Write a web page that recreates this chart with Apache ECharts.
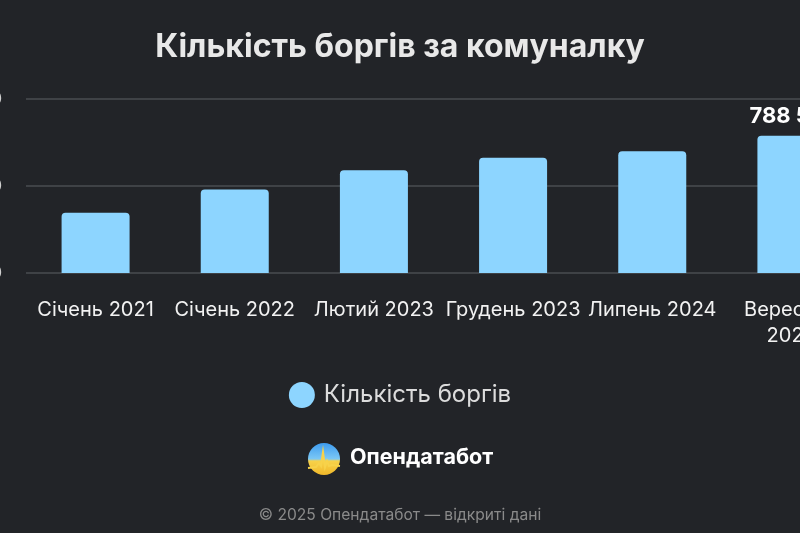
<!DOCTYPE html>
<html>
<head>
<meta charset="utf-8">
<script src="https://cdn.jsdelivr.net/npm/echarts@6/dist/echarts.min.js"></script>
<style>
html,body{margin:0;padding:0;background:#222428;overflow:hidden;}
#chart{width:800px;height:533px;}
</style>
</head>
<body>
<div id="chart"></div>
<script>
const categories = ['Січень 2021', 'Січень 2022', 'Лютий 2023', 'Грудень 2023', 'Липень 2024', 'Вересень 2024'];
const debtCounts = [346000, 480000, 590000, 663000, 699000, 788541];
const seriesName = 'Кількість боргів';
const titleText = 'Кількість боргів за комуналку';
const brandText = 'Опендатабот';
const footerText = '© 2025 Опендатабот — відкриті дані';
const yMin = 0, yMax = 1000000, yInterval = 500000;

function fmt(v){ return String(v).replace(/\B(?=(\d{3})+(?!\d))/g, ' '); }

const chart = echarts.init(document.getElementById('chart'));
chart.setOption({
  backgroundColor: '#222428',
  animation: false,
  textStyle: { fontFamily: 'Inter' },
  title: {
    text: titleText,
    left: 'center',
    top: 26,
    textStyle: { color: '#e8e8e8', fontSize: 32, fontWeight: 'bold', fontFamily: 'Inter' }
  },
  legend: {
    data: [seriesName],
    left: 'center',
    top: 377,
    icon: 'circle',
    itemWidth: 26,
    itemHeight: 26,
    itemGap: 9,
    textStyle: { color: '#dcdcdc', fontSize: 24, fontFamily: 'Inter', padding: [0, 0, 0, 4] }
  },
  grid: { left: 26, top: 99, width: 835, height: 174, containLabel: false, outerBoundsMode: 'none' },
  xAxis: {
    type: 'category',
    data: categories,
    axisLine: { show: false },
    axisTick: { show: false },
    axisLabel: {
      color: '#f2f2f2', fontSize: 20, fontFamily: 'Inter', margin: 24,
      lineHeight: 26, interval: 0,
      formatter: v => v.length > 12 ? v.replace(' ', '\n') : v
    }
  },
  yAxis: {
    type: 'value',
    min: yMin, max: yMax, interval: yInterval,
    axisLine: { show: false },
    axisTick: { show: false },
    axisLabel: { color: '#cfcfcf', fontSize: 16, margin: 24, formatter: v => fmt(v) },
    splitLine: { lineStyle: { color: '#4a4c50', width: 1.5 } }
  },
  series: [{
    name: seriesName,
    type: 'bar',
    data: debtCounts.map((v, i) => ({
      value: v,
      label: {
        show: i === debtCounts.length - 1,
        position: 'top',
        distance: 8,
        color: '#ffffff',
        fontSize: 22,
        fontWeight: 'bold',
        fontFamily: 'Inter',
        formatter: p => fmt(p.value)
      }
    })),
    barWidth: 68,
    itemStyle: { color: '#8dd5ff', borderRadius: [4, 4, 0, 0] }
  }],
  graphic: [
    {
      type: 'circle',
      shape: { cx: 324, cy: 459, r: 16 },
      style: {
        fill: new echarts.graphic.LinearGradient(0, 0, 0, 1, [
          { offset: 0, color: '#3d9cf0' },
          { offset: 0.5, color: '#7cc8f5' },
          { offset: 0.56, color: '#f7d24a' },
          { offset: 1, color: '#f0b82a' }
        ])
      }
    },
    {
      type: 'polyline',
      shape: { points: [[308,468],[316,467],[319,463],[321,466],[323,452],[325,467],[327,461],[329,466],[332,465],[340,466]] },
      style: { stroke: '#f7d24a', fill: null, lineWidth: 2 }
    },
    {
      type: 'text',
      left: 350, top: 447,
      style: { text: brandText, fill: '#ffffff', fontSize: 21.5, fontWeight: 'bold', fontFamily: 'Inter' }
    },
    {
      type: 'text',
      left: 'center', top: 507,
      style: { text: footerText, fill: '#8a8a8a', fontSize: 15.6, fontFamily: 'Inter' }
    }
  ]
});
</script>
</body>
</html>
